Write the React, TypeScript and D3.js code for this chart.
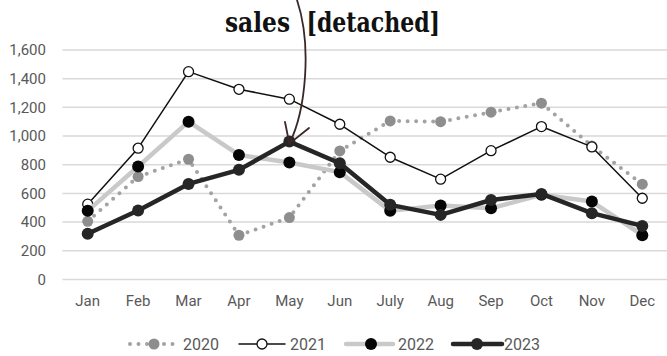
import React from "react";
import * as d3 from "d3";

const months = ["Jan", "Feb", "Mar", "Apr", "May", "Jun", "July", "Aug", "Sep", "Oct", "Nov", "Dec"];
const sales2020 = [405, 717, 838, 308, 431, 896, 1105, 1100, 1166, 1229, 930, 664];
const sales2021 = [525, 915, 1449, 1326, 1257, 1082, 852, 699, 898, 1066, 924, 566];
const sales2022 = [478, 787, 1100, 868, 815, 748, 478, 515, 496, 590, 543, 308];
const sales2023 = [318, 480, 666, 764, 961, 810, 520, 450, 554, 596, 462, 373];
const yTicks = [0, 200, 400, 600, 800, 1000, 1200, 1400, 1600];
const seriesNames = ["2020", "2021", "2022", "2023"];

const W = 667;
const H = 356;
const FONT = "Roboto, 'Noto Sans', sans-serif";
const TEXT = "#595959";

type Style = {
  stroke: string;
  width: number;
  dash?: string;
  markerFill: string;
  markerStroke: string;
  markerR: number;
  markerStrokeWidth: number;
};

const styles: Style[] = [
  { stroke: "#a3a3a3", width: 4, dash: "0 8.5", markerFill: "#8e8e8e", markerStroke: "none", markerR: 5.5, markerStrokeWidth: 0 },
  { stroke: "#111", width: 1.5, markerFill: "#fff", markerStroke: "#111", markerR: 5, markerStrokeWidth: 1.3 },
  { stroke: "#c9c9c9", width: 4.5, markerFill: "#050505", markerStroke: "none", markerR: 6, markerStrokeWidth: 0 },
  { stroke: "#262626", width: 4.5, markerFill: "#262626", markerStroke: "none", markerR: 6, markerStrokeWidth: 0 },
];

export default function App() {
  const plotLeft = 62.5;
  const plotRight = 667.5;
  const x = d3.scaleBand<string>().domain(months).range([plotLeft, plotRight]);
  const y = d3.scaleLinear().domain([0, 1600]).range([279.4, 50]);
  const cx = (m: string) => (x(m) as number) + x.bandwidth() / 2;

  const line = d3
    .line<number>()
    .x((_, i) => cx(months[i]))
    .y((v) => y(v));

  const allSeries = [sales2020, sales2021, sales2022, sales2023];

  // legend layout
  const legendY = 344;
  const legendItems = [
    { x0: 130, x1: 176, mx: 154, tx: 183 },
    { x0: 239, x1: 285, mx: 262, tx: 290 },
    { x0: 346, x1: 393, mx: 371, tx: 398 },
    { x0: 453, x1: 502, mx: 477, tx: 504 },
  ];

  const titleFont = "'DejaVu Serif Condensed', 'DejaVu Serif', serif";

  return (
    <svg
      width={W}
      height={H}
      viewBox={`0 0 ${W} ${H}`}
      style={{ position: "absolute", left: 0, top: 0, background: "#fff" }}
    >
      <rect width={W} height={H} fill="#fff" />

      {/* gridlines and y labels */}
      {yTicks.map((t) => (
        <g key={t}>
          <line x1={plotLeft} x2={W} y1={y(t)} y2={y(t)} stroke="#d9d9d9" strokeWidth={1.5} />
          <text
            x={46}
            y={y(t)}
            dy="0.35em"
            textAnchor="end"
            fontFamily={FONT}
            fontSize={15}
            fill={TEXT}
          >
            {d3.format(",")(t)}
          </text>
        </g>
      ))}

      {/* x labels */}
      {months.map((m) => (
        <text key={m} x={cx(m)} y={306} textAnchor="middle" fontFamily={FONT} fontSize={15} fill={TEXT}>
          {m}
        </text>
      ))}

      {/* series lines and markers */}
      {allSeries.map((data, si) => {
        const s = styles[si];
        return (
          <g key={si}>
            <path
              d={line(data) || ""}
              fill="none"
              stroke={s.stroke}
              strokeWidth={s.width}
              strokeDasharray={s.dash}
              strokeLinecap="round"
              strokeLinejoin="round"
            />
            {data.map((v, i) => (
              <circle
                key={i}
                cx={cx(months[i])}
                cy={y(v)}
                r={s.markerR}
                fill={s.markerFill}
                stroke={s.markerStroke}
                strokeWidth={s.markerStrokeWidth}
              />
            ))}
          </g>
        );
      })}

      {/* title */}
      <text
        y={31.5}
        fontFamily={titleFont}
        fontStretch="condensed"
        fontWeight="bold"
        fontSize={27}
        fill="#111"
      >
        <tspan x={225} textLength={65} lengthAdjust="spacingAndGlyphs">sales</tspan>
        <tspan x={306.5} textLength={133.5} lengthAdjust="spacingAndGlyphs">{" [detached]".trim()}</tspan>
      </text>

      {/* hand-drawn arrow pointing at the May peak */}
      <g stroke="#3a2828" strokeWidth={1.8} fill="none" strokeLinecap="round">
        <path d={`M297,0 C312,45 306,110 ${cx("May")},${y(sales2023[4]) + 2}`} />
        <path d={`M285,122 L${cx("May")},${y(sales2023[4]) + 2} L309,128`} />
      </g>

      {/* legend */}
      {legendItems.map((it, i) => {
        const s = styles[i];
        return (
          <g key={i}>
            <line
              x1={it.x0}
              x2={it.x1}
              y1={legendY}
              y2={legendY}
              stroke={s.stroke}
              strokeWidth={s.width}
              strokeDasharray={s.dash}
              strokeLinecap="round"
            />
            <circle
              cx={it.mx}
              cy={legendY}
              r={s.markerR}
              fill={s.markerFill}
              stroke={s.markerStroke}
              strokeWidth={s.markerStrokeWidth}
            />
            <text x={it.tx} y={legendY} dy="0.36em" fontFamily={FONT} fontSize={16} fill={TEXT}>
              {seriesNames[i]}
            </text>
          </g>
        );
      })}
    </svg>
  );
}
